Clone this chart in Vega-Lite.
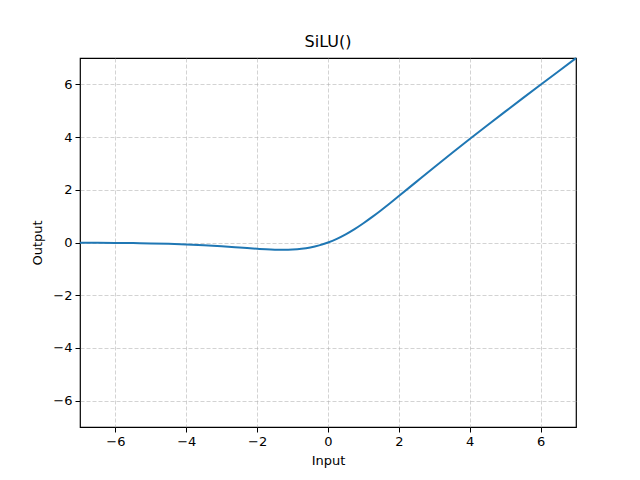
{
  "$schema": "https://vega.github.io/schema/vega-lite/v6.json",
  "description": "SiLU activation",
  "autosize": "none",
  "padding": {"left": 80, "top": 58, "right": 64, "bottom": 53},
  "width": 496,
  "height": 369,
  "background": "white",
  "title": {
    "text": "SiLU()",
    "font": "DejaVu Sans",
    "fontSize": 16,
    "fontWeight": "normal",
    "color": "black",
    "anchor": "middle",
    "offset": 4
  },
  "config": {
    "view": {"stroke": "black", "strokeWidth": 1.2},
    "axis": {
      "labelFont": "DejaVu Sans",
      "labelFontSize": 13,
      "labelColor": "black",
      "titleFont": "DejaVu Sans",
      "titleFontSize": 13,
      "titleFontWeight": "normal",
      "titleColor": "black",
      "domain": false,
      "tickColor": "black",
      "tickSize": 5,
      "tickWidth": 1,
      "labelPadding": 3,
      "grid": true,
      "gridColor": "#b0b0b0",
      "gridOpacity": 0.7,
      "gridDash": [4, 2],
      "gridWidth": 0.8
    }
  },
  "data": {
    "values": [
      {"input": -7, "output": -0.0064},
      {"input": -6.5, "output": -0.0098},
      {"input": -6, "output": -0.0148},
      {"input": -5.5, "output": -0.0224},
      {"input": -5, "output": -0.0335},
      {"input": -4.5, "output": -0.0494},
      {"input": -4, "output": -0.0719},
      {"input": -3.5, "output": -0.1026},
      {"input": -3, "output": -0.1423},
      {"input": -2.5, "output": -0.1896},
      {"input": -2, "output": -0.2384},
      {"input": -1.75, "output": -0.2591},
      {"input": -1.5, "output": -0.2736},
      {"input": -1.25, "output": -0.2784},
      {"input": -1, "output": -0.2689},
      {"input": -0.75, "output": -0.2406},
      {"input": -0.5, "output": -0.1888},
      {"input": -0.25, "output": -0.1095},
      {"input": 0, "output": 0},
      {"input": 0.25, "output": 0.1405},
      {"input": 0.5, "output": 0.3112},
      {"input": 0.75, "output": 0.5094},
      {"input": 1, "output": 0.7311},
      {"input": 1.25, "output": 0.9716},
      {"input": 1.5, "output": 1.2264},
      {"input": 1.75, "output": 1.4909},
      {"input": 2, "output": 1.7616},
      {"input": 2.5, "output": 2.3104},
      {"input": 3, "output": 2.8577},
      {"input": 3.5, "output": 3.3974},
      {"input": 4, "output": 3.9281},
      {"input": 4.5, "output": 4.4506},
      {"input": 5, "output": 4.9665},
      {"input": 5.5, "output": 5.4776},
      {"input": 6, "output": 5.9852},
      {"input": 6.5, "output": 6.4902},
      {"input": 7, "output": 6.9936}
    ]
  },
  "mark": {"type": "line", "color": "#1f77b4", "strokeWidth": 2, "interpolate": "monotone"},
  "encoding": {
    "x": {
      "field": "input",
      "type": "quantitative",
      "title": "Input",
      "scale": {"domain": [-7, 7], "nice": false, "zero": false},
      "axis": {"values": [-6, -4, -2, 0, 2, 4, 6], "labelExpr": "replace(datum.label, '-', '−')", "titlePadding": 6}
    },
    "y": {
      "field": "output",
      "type": "quantitative",
      "title": "Output",
      "scale": {"domain": [-7, 7], "nice": false, "zero": false},
      "axis": {"values": [-6, -4, -2, 0, 2, 4, 6], "labelExpr": "replace(datum.label, '-', '−')", "titlePadding": 8}
    }
  }
}
